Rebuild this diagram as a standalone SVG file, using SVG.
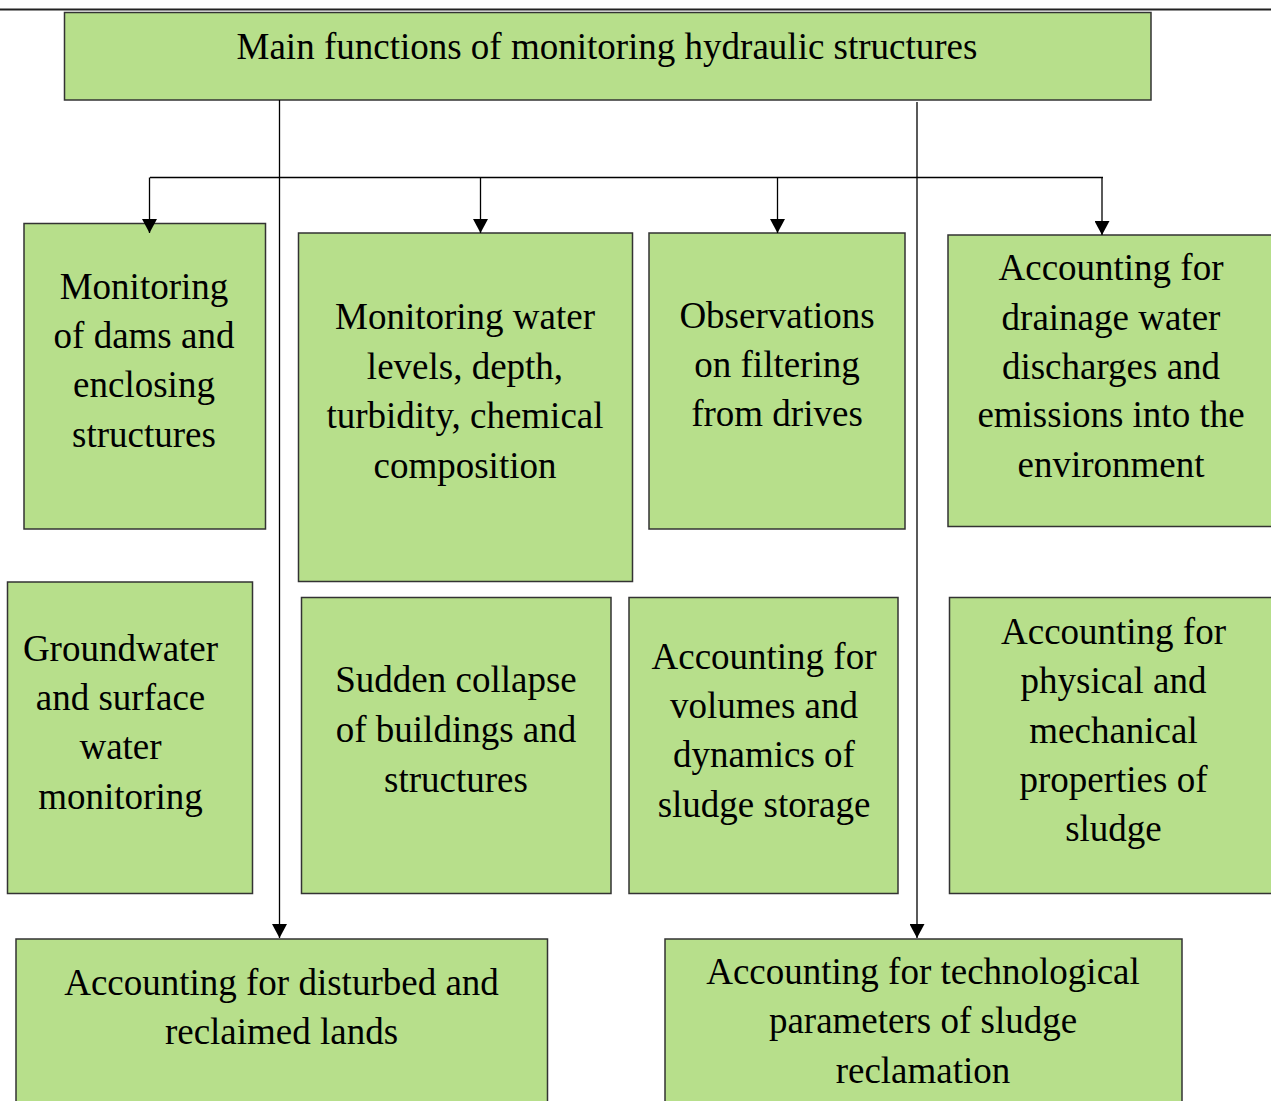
<svg xmlns="http://www.w3.org/2000/svg" width="1271" height="1101" viewBox="0 0 1271 1101">
  <style>
    .box { fill: #b7df8b; stroke: #333333; stroke-width: 1.5; }
    .lbl { font-size: 37px; fill: #000000; text-anchor: middle; }
    .wire { fill: none; stroke: #000000; stroke-width: 1.3; }
  </style>
  <defs>
    <marker id="arrow" markerUnits="userSpaceOnUse" markerWidth="14" markerHeight="15" viewBox="0 0 14 15" refX="14" refY="7.5" orient="auto">
      <path d="M0,0 L14,7.5 L0,15 Z" fill="#000000"/>
    </marker>
  </defs>

  <rect width="1271" height="1101" fill="#ffffff"/>

  <!-- page rule along the top -->
  <line x1="0" y1="9.5" x2="1271" y2="9.5" stroke="#222222" stroke-width="2"/>

  <g font-family="'Liberation Serif', 'Times New Roman', 'DejaVu Serif', serif">
    <g id="main">
      <rect class="box" x="64.5" y="12.5" width="1086.5" height="87.5"/>
      <text class="lbl" x="607" y="59">Main functions of monitoring hydraulic structures</text>
    </g>

    <g id="dams">
      <rect class="box" x="24" y="223.5" width="241.5" height="305.5"/>
      <text class="lbl" x="144" y="299">Monitoring</text>
      <text class="lbl" x="144" y="348">of dams and</text>
      <text class="lbl" x="144" y="397">enclosing</text>
      <text class="lbl" x="144" y="446.5">structures</text>
    </g>

    <g id="water-levels">
      <rect class="box" x="298.5" y="233" width="334" height="348.5"/>
      <text class="lbl" x="465" y="329">Monitoring water</text>
      <text class="lbl" x="465" y="378.5">levels, depth,</text>
      <text class="lbl" x="465" y="428">turbidity, chemical</text>
      <text class="lbl" x="465" y="477.5">composition</text>
    </g>

    <g id="filtering">
      <rect class="box" x="649" y="233" width="256" height="296"/>
      <text class="lbl" x="777" y="327.5">Observations</text>
      <text class="lbl" x="777" y="377">on filtering</text>
      <text class="lbl" x="777" y="426">from drives</text>
    </g>

    <g id="drainage">
      <rect class="box" x="948" y="235" width="330" height="291.5"/>
      <text class="lbl" x="1111" y="280">Accounting for</text>
      <text class="lbl" x="1111" y="329.5">drainage water</text>
      <text class="lbl" x="1111" y="378.5">discharges and</text>
      <text class="lbl" x="1111" y="427">emissions into the</text>
      <text class="lbl" x="1111" y="477">environment</text>
    </g>

    <g id="groundwater">
      <rect class="box" x="7.5" y="582" width="245" height="311.5"/>
      <text class="lbl" x="120.5" y="660.5">Groundwater</text>
      <text class="lbl" x="120.5" y="709.5">and surface</text>
      <text class="lbl" x="120.5" y="759">water</text>
      <text class="lbl" x="120.5" y="808.5">monitoring</text>
    </g>

    <g id="collapse">
      <rect class="box" x="301.5" y="597.5" width="309.5" height="296"/>
      <text class="lbl" x="456" y="692">Sudden collapse</text>
      <text class="lbl" x="456" y="742">of buildings and</text>
      <text class="lbl" x="456" y="791.5">structures</text>
    </g>

    <g id="sludge-storage">
      <rect class="box" x="629" y="597.5" width="269" height="296"/>
      <text class="lbl" x="764" y="668.5">Accounting for</text>
      <text class="lbl" x="764" y="718">volumes and</text>
      <text class="lbl" x="764" y="767">dynamics of</text>
      <text class="lbl" x="764" y="816.5">sludge storage</text>
    </g>

    <g id="sludge-properties">
      <rect class="box" x="949.5" y="597.5" width="330" height="296"/>
      <text class="lbl" x="1113.5" y="643.5">Accounting for</text>
      <text class="lbl" x="1113.5" y="693">physical and</text>
      <text class="lbl" x="1113.5" y="742.5">mechanical</text>
      <text class="lbl" x="1113.5" y="792">properties of</text>
      <text class="lbl" x="1113.5" y="841">sludge</text>
    </g>

    <g id="lands">
      <rect class="box" x="16" y="939" width="531.5" height="170"/>
      <text class="lbl" x="281.5" y="994.5">Accounting for disturbed and</text>
      <text class="lbl" x="281.5" y="1043.5">reclaimed lands</text>
    </g>

    <g id="reclamation">
      <rect class="box" x="665" y="939" width="517" height="170"/>
      <text class="lbl" x="923" y="983.5">Accounting for technological</text>
      <text class="lbl" x="923" y="1033">parameters of sludge</text>
      <text class="lbl" x="923" y="1083">reclamation</text>
    </g>
  </g>

  <!-- connectors, drawn last so the arrow tips sit on top of the box edges -->
  <g id="connectors">
    <line class="wire" x1="150" y1="177.5" x2="1103" y2="177.5"/>
    <line class="wire" x1="149.5" y1="177.5" x2="149.5" y2="233" marker-end="url(#arrow)"/>
    <line class="wire" x1="480.5" y1="177.5" x2="480.5" y2="233" marker-end="url(#arrow)"/>
    <line class="wire" x1="777.5" y1="177.5" x2="777.5" y2="233" marker-end="url(#arrow)"/>
    <line class="wire" x1="1102" y1="177.5" x2="1102" y2="235" marker-end="url(#arrow)"/>
    <line class="wire" x1="279.5" y1="100" x2="279.5" y2="938" marker-end="url(#arrow)"/>
    <line class="wire" x1="917" y1="102" x2="917" y2="938" marker-end="url(#arrow)"/>
  </g>
</svg>
